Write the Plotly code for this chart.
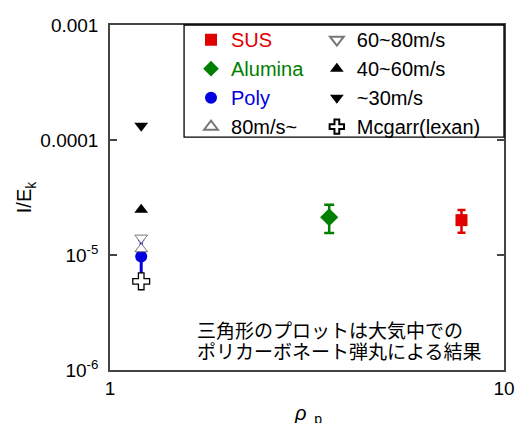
import plotly.graph_objects as go

# Data (rho_p, I/E_k)
sus_x = [7.8]; sus_y = [2.01e-5]; sus_err_plus = [0.45e-5]; sus_err_minus = [0.45e-5]
alu_x = [3.6]; alu_y = [2.13e-5]; alu_err_plus = [0.61e-5]; alu_err_minus = [0.58e-5]
poly_x = [1.2]; poly_y = [9.7e-6]; poly_err_plus = [3.9e-6]; poly_err_minus = [3.35e-6]
v80up_x = [1.2]; v80up_y = [1.13e-5]
v6080_x = [1.2]; v6080_y = [1.41e-5]
v4060_x = [1.2]; v4060_y = [2.48e-5]
v30_x = [1.2]; v30_y = [1.33e-4]
mcgarr_x = [1.2]; mcgarr_y = [5.9e-6]

ytick_vals = [1e-6, 1e-5, 1e-4, 1e-3]
ytick_text = ["10<sup>-6</sup>", "10<sup>-5</sup>", "0.0001", "0.001"]
xtick_vals = [1, 10]
xtick_text = ["1", "10"]
note_lines = ["三角形のプロットは大気中での", "ポリカーボネート弾丸による結果"]
x_title = "<i>ρ</i><sub>  p</sub>"
y_title = "I/E<sub>k</sub>"

FONT = "Liberation Sans, Arial, Helvetica, sans-serif"

fig = go.Figure()

fig.add_trace(go.Scatter(
    x=sus_x, y=sus_y, mode="markers", name="<span style='color:#e00000'>SUS</span>",
    legend="legend",
    marker=dict(symbol="square", size=12, color="#e00000"),
    error_y=dict(type="data", array=sus_err_plus, arrayminus=sus_err_minus,
                 color="#e00000", thickness=2.5, width=4)))
fig.add_trace(go.Scatter(
    x=alu_x, y=alu_y, mode="markers", name="<span style='color:#008000'>Alumina</span>",
    legend="legend",
    marker=dict(symbol="diamond", size=14, color="#008000"),
    error_y=dict(type="data", array=alu_err_plus, arrayminus=alu_err_minus,
                 color="#008000", thickness=2.5, width=5)))
fig.add_trace(go.Scatter(
    x=poly_x, y=poly_y, mode="markers", name="<span style='color:#0000e0'>Poly</span>",
    legend="legend",
    marker=dict(symbol="circle", size=12, color="#0000e0"),
    error_y=dict(type="data", array=poly_err_plus, arrayminus=poly_err_minus,
                 color="#0000e0", thickness=3, width=3)))
fig.add_trace(go.Scatter(
    x=v80up_x, y=v80up_y, mode="markers", name="80m/s~",
    legend="legend",
    marker=dict(symbol="triangle-up", size=11, color="white",
                line=dict(color="#777777", width=1))))
fig.add_trace(go.Scatter(
    x=v6080_x, y=v6080_y, mode="markers", name="60~80m/s",
    legend="legend2",
    marker=dict(symbol="triangle-down", size=11, color="white",
                line=dict(color="#777777", width=1))))
fig.add_trace(go.Scatter(
    x=v4060_x, y=v4060_y, mode="markers", name="40~60m/s",
    legend="legend2",
    marker=dict(symbol="triangle-up", size=12, color="black")))
fig.add_trace(go.Scatter(
    x=v30_x, y=v30_y, mode="markers", name="~30m/s",
    legend="legend2",
    marker=dict(symbol="triangle-down", size=12, color="black")))
fig.add_trace(go.Scatter(
    x=mcgarr_x, y=mcgarr_y, mode="markers", name="Mcgarr(lexan)",
    legend="legend2",
    marker=dict(symbol="cross", size=14, color="white",
                line=dict(color="black", width=1.3))))

for i, line in enumerate(note_lines):
    fig.add_annotation(
        x=0.216, y=0.118 - i * 0.061, xref="paper", yref="paper",
        xanchor="left", yanchor="middle",
        text=line, showarrow=False, align="left",
        font=dict(family="Noto Sans CJK JP", size=19, color="black"))

# x-axis title placed low like the reference (partly cut by the page edge)
fig.add_annotation(
    x=0.503, y=-0.128, xref="paper", yref="paper",
    xanchor="center", yanchor="middle", text=x_title, showarrow=False,
    font=dict(family=FONT, size=20, color="black"))

# legend frame
fig.add_shape(type="rect", xref="paper", yref="paper",
              x0=0.188, x1=1.0, y0=0.675, y1=1.0,
              line=dict(color="black", width=1.3), fillcolor="white", layer="above")

axis_common = dict(
    showline=True, linecolor="#444444", linewidth=1.5, mirror="ticks",
    ticks="inside", ticklen=7, tickwidth=1.5, tickcolor="#444444",
    showgrid=False, zeroline=False,
    tickfont=dict(family=FONT, size=19, color="black"))

legend_common = dict(
    orientation="v", yanchor="top", xanchor="left",
    bgcolor="rgba(0,0,0,0)", borderwidth=0,
    font=dict(family=FONT, size=20, color="black"),
    tracegroupgap=0, itemsizing="constant")

fig.update_layout(
    width=516, height=423,
    margin=dict(l=110, r=12, t=25, b=53, autoexpand=False),
    plot_bgcolor="white", paper_bgcolor="white",
    font=dict(family=FONT, size=19, color="black"),
    showlegend=True,
    legend=dict(x=0.2056, y=1.014, **legend_common),
    legend2=dict(x=0.525, y=1.014, **legend_common),
    xaxis=dict(type="log", range=[0, 1], tickvals=xtick_vals, ticktext=xtick_text,
               **axis_common),
    yaxis=dict(type="log", range=[-6, -3], tickvals=ytick_vals, ticktext=ytick_text,
               ticklabelstandoff=6,
               title=dict(text=y_title, standoff=3,
                          font=dict(family=FONT, size=20)),
               **axis_common),
)

fig.write_html("out.html")
